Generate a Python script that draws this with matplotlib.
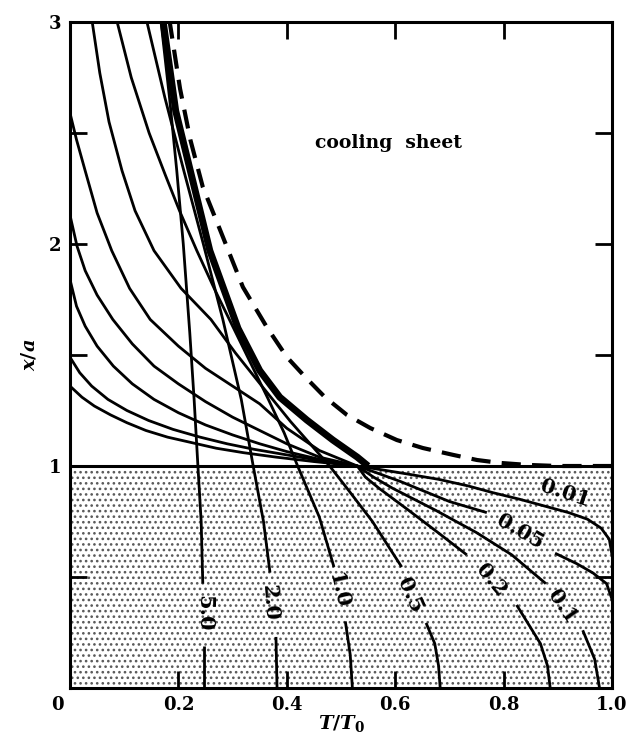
import matplotlib
matplotlib.use("Agg")
import matplotlib.pyplot as plt

plt.rcParams['font.family'] = ['DejaVu Serif']
plt.rcParams['font.weight'] = 'bold'
plt.rcParams['mathtext.fontset'] = 'custom'
plt.rcParams['mathtext.it'] = 'DejaVu Serif:italic:bold'
plt.rcParams['mathtext.rm'] = 'DejaVu Serif:bold'
plt.rcParams['hatch.linewidth'] = 1.1

# temperature profiles T/T0 against x/a, one per time parameter
t5_T = [0.247, 0.247, 0.245, 0.242, 0.236, 0.229, 0.221, 0.209, 0.197, 0.184, 0.168]
t5_y = [0.0, 0.19, 0.47, 0.75, 1.0, 1.3, 1.6, 2.0, 2.33, 2.65, 3.0]

t2_T = [0.382, 0.380, 0.369, 0.357, 0.338, 0.316, 0.282, 0.246, 0.210, 0.175, 0.142]
t2_y = [0.0, 0.23, 0.52, 0.75, 1.0, 1.3, 1.66, 2.0, 2.33, 2.66, 3.0]

t1_T = [0.521, 0.517, 0.508, 0.487, 0.460, 0.420, 0.395, 0.366, 0.326, 0.294,
        0.266, 0.234, 0.202, 0.176, 0.146, 0.113, 0.087]
t1_y = [0.0, 0.15, 0.30, 0.545, 0.77, 1.0, 1.15, 1.3, 1.5, 1.66,
        1.8, 1.97, 2.15, 2.31, 2.5, 2.75, 3.0]

t05_T = [0.683, 0.680, 0.673, 0.657, 0.612, 0.558, 0.511, 0.479, 0.443, 0.407,
         0.354, 0.305, 0.260, 0.205, 0.155, 0.120, 0.096, 0.072, 0.055, 0.041]
t05_y = [0.0, 0.1, 0.2, 0.293, 0.545, 0.75, 0.9, 1.0, 1.1, 1.2,
         1.36, 1.51, 1.66, 1.8, 1.97, 2.15, 2.33, 2.55, 2.77, 3.0]

t02_T = [0.886, 0.881, 0.868, 0.824, 0.732, 0.679, 0.625, 0.570, 0.545, 0.530,
         0.460, 0.400, 0.350, 0.300, 0.250, 0.200, 0.148, 0.110, 0.077, 0.050,
         0.028, 0.012, 0.0]
t02_y = [0.0, 0.1, 0.2, 0.374, 0.6, 0.7, 0.8, 0.9, 0.95, 1.0,
         1.07, 1.17, 1.28, 1.36, 1.44, 1.54, 1.66, 1.80, 1.97, 2.14,
         2.33, 2.47, 2.59]

t01_T = [0.977, 0.968, 0.946, 0.878, 0.815, 0.750, 0.675, 0.595, 0.560, 0.530,
         0.460, 0.400, 0.350, 0.300, 0.250, 0.200, 0.155, 0.115, 0.079, 0.050,
         0.028, 0.013, 0.0]
t01_y = [0.0, 0.13, 0.26, 0.47, 0.6, 0.7, 0.8, 0.9, 0.95, 1.0,
         1.04, 1.10, 1.16, 1.22, 1.29, 1.37, 1.45, 1.55, 1.66, 1.77,
         1.88, 1.99, 2.13]

t005_T = [1.0, 0.99, 0.965, 0.935, 0.895, 0.769, 0.70, 0.66, 0.61, 0.565,
          0.530, 0.460, 0.400, 0.350, 0.300, 0.250, 0.200, 0.155, 0.115, 0.080,
          0.050, 0.028, 0.012, 0.0]
t005_y = [0.40, 0.47, 0.518, 0.56, 0.607, 0.79, 0.84, 0.88, 0.93, 0.97,
          1.0, 1.03, 1.065, 1.10, 1.14, 1.185, 1.24, 1.30, 1.37, 1.45,
          1.54, 1.63, 1.72, 1.84]

# unlabeled profile leaving the slab between 0.01 and 0.05
tx_T = [0.530, 0.460, 0.400, 0.340, 0.290, 0.240, 0.190, 0.145, 0.105, 0.070,
        0.040, 0.018, 0.0]
tx_y = [1.0, 1.025, 1.05, 1.075, 1.10, 1.13, 1.165, 1.205, 1.25, 1.30,
        1.36, 1.42, 1.49]

t001_T = [1.0, 0.995, 0.98, 0.955, 0.92, 0.875, 0.83, 0.78, 0.735, 0.68,
          0.62, 0.57, 0.530, 0.450, 0.380, 0.320, 0.270, 0.225, 0.180, 0.140,
          0.105, 0.075, 0.045, 0.022, 0.0]
t001_y = [0.60, 0.67, 0.72, 0.76, 0.79, 0.82, 0.85, 0.88, 0.91, 0.94,
          0.965, 0.985, 1.0, 1.02, 1.04, 1.06, 1.08, 1.105, 1.13, 1.16,
          1.195, 1.23, 1.27, 1.31, 1.36]

# maximum temperature envelope (thick) and dashed curve
env_T = [0.550, 0.530, 0.485, 0.437, 0.387, 0.350, 0.310, 0.258, 0.222, 0.195, 0.172]
env_y = [1.0, 1.04, 1.117, 1.207, 1.31, 1.43, 1.62, 1.97, 2.33, 2.6, 3.0]

dash_T = [1.0, 0.90, 0.843, 0.793, 0.751, 0.707, 0.651, 0.603, 0.554, 0.511,
          0.470, 0.434, 0.400, 0.363, 0.319, 0.277, 0.245, 0.222, 0.203, 0.184]
dash_y = [1.0, 1.0, 1.005, 1.014, 1.027, 1.05, 1.081, 1.117, 1.171, 1.23,
          1.311, 1.401, 1.491, 1.626, 1.806, 2.063, 2.257, 2.47, 2.7, 3.0]

labels = ['5.0', '2.0', '1.0', '0.5', '0.2', '0.1', '0.05', '0.01']
label_T = [0.247, 0.369, 0.495, 0.627, 0.778, 0.908, 0.830, 0.913]
label_y = [0.335, 0.383, 0.44, 0.42, 0.486, 0.365, 0.703, 0.878]
label_rot = [-90, -86, -77, -66, -50, -55, -30, -18]

# (T, y, index after which the line is broken for its label)
curves = [(t5_T, t5_y, 1), (t2_T, t2_y, 1), (t1_T, t1_y, 2), (t05_T, t05_y, 3),
          (t02_T, t02_y, 3), (t01_T, t01_y, 2), (t005_T, t005_y, 4),
          (tx_T, tx_y, None), (t001_T, t001_y, None)]

fig = plt.figure(figsize=(6.28, 7.36), dpi=100)
ax = fig.add_axes([70 / 628, 48 / 736, 542 / 628, 666 / 736])

# stippled slab
ax.fill_between([0, 1], 0, 1, facecolor='white', hatch='...', edgecolor='0.35',
                linewidth=0, zorder=0)
ax.axhline(1.0, color='k', lw=2.2, zorder=3)

for T, y, gap in curves:
    if gap is None:
        ax.plot(T, y, color='k', lw=2.0, solid_capstyle='butt', zorder=4)
    else:
        ax.plot(T[:gap + 1], y[:gap + 1], color='k', lw=2.0, solid_capstyle='butt', zorder=4)
        ax.plot(T[gap + 1:], y[gap + 1:], color='k', lw=2.0, solid_capstyle='butt', zorder=4)

ax.plot(env_T, env_y, color='k', lw=5.0, solid_capstyle='butt', zorder=5)
ax.plot(dash_T, dash_y, color='k', lw=3.0, ls=(0, (4.6, 2.7)), zorder=5)

for s, tx, ty, r in zip(labels, label_T, label_y, label_rot):
    ax.text(tx, ty, s, rotation=r, ha='center', va='center', fontsize=15,
            fontweight='bold', rotation_mode='anchor', zorder=6)

ax.text(0.587, 2.455, 'cooling  sheet', ha='center', va='center', fontsize=13.5,
        fontweight='bold')

ax.set_xlim(0, 1)
ax.set_ylim(0, 3)
ax.set_xticks([0, 0.2, 0.4, 0.6, 0.8, 1.0])
ax.set_xticklabels(['', '0.2', '0.4', '0.6', '0.8', '1.0'])
ax.set_yticks([0, 0.5, 1, 1.5, 2, 2.5, 3])
ax.set_yticklabels(['', '', '1', '', '2', '', '3'])
ax.tick_params(direction='in', length=12, width=2, top=True, right=True,
               labelsize=13, pad=6)
# shared origin label sits below-left of the corner
ax.text(-0.024, -0.077, '0', ha='center', va='center', fontsize=13,
        fontweight='bold', clip_on=False)
for sp in ax.spines.values():
    sp.set_linewidth(2.2)

ax.set_xlabel(r'$T/T_0$', fontsize=14, labelpad=-1)
ax.set_ylabel(r'$x/a$', fontsize=14, labelpad=8)

fig.savefig('out.png', dpi=100)
